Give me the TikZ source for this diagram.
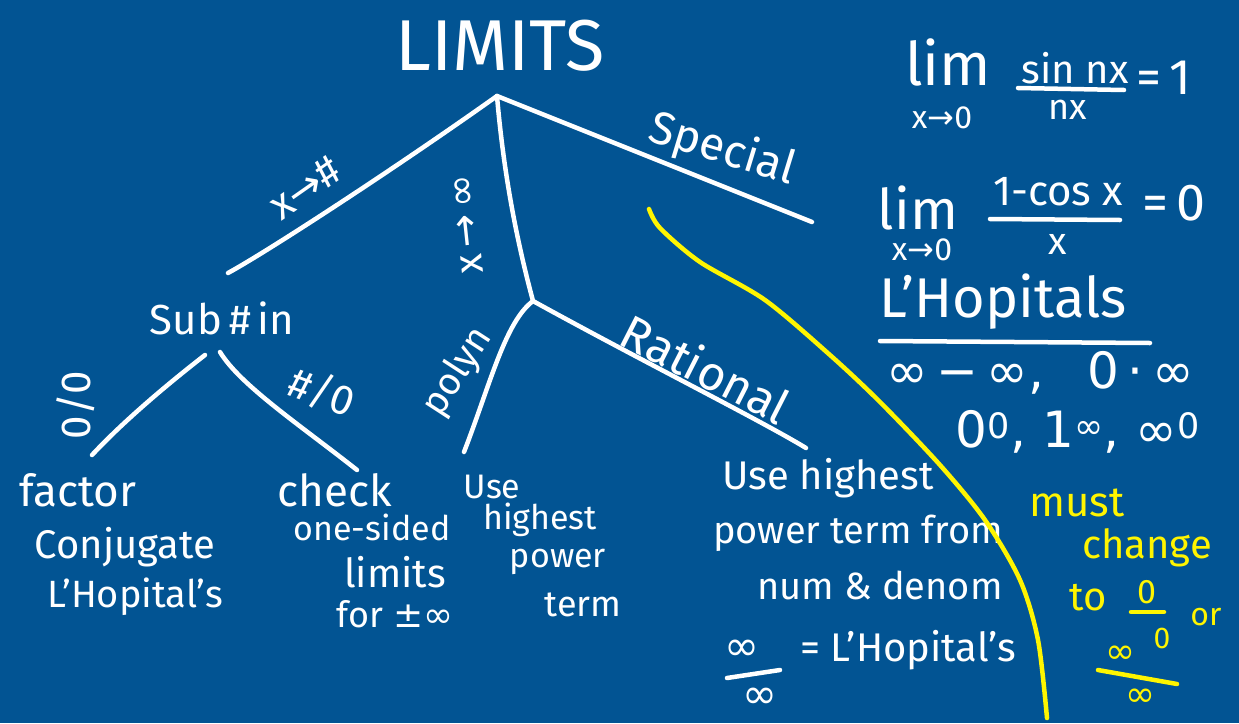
\documentclass[tikz,border=0pt]{standalone}
\usepackage{fontspec}
\setmainfont{Fira Sans}
\newfontfamily\symf{DejaVu Sans}
\definecolor{bg}{RGB}{2,84,147}
\definecolor{hl}{RGB}{255,245,0}
\newcommand\hwsize[1]{\fontsize{#1}{#1}\selectfont}
\begin{document}
\begin{tikzpicture}[x=1pt,y=-1pt,
  hw/.style={draw=white, line width=4.5pt, line cap=round, line join=round},
  yl/.style={draw=hl, line width=4.5pt, line cap=round, line join=round},
  txt/.style={text=white, inner sep=0pt, anchor=center},
  ytxt/.style={text=hl, inner sep=0pt, anchor=center}]
\fill[bg] (0,0) rectangle (1239,723);
\useasboundingbox (0,0) rectangle (1239,723);

% ---------- tree ----------
\node[txt, font=\hwsize{72}] (limits) at (500,46) {LIMITS};
\coordinate (root) at (497,96);
\coordinate (lend) at (228,273);
\coordinate (mid) at (533,301);
\coordinate (rend) at (812,222);
\draw[hw] (root) .. controls (400,165) and (270,250) .. (lend);
\draw[hw] (root) .. controls (505,190) and (522,260) .. (mid);
\draw[hw] (root) -- (rend);

\node[txt, font=\hwsize{42}, rotate=35] (lx) at (305,188) {x{\symf →}\#};
\node[txt, font=\hwsize{40}, rotate=96] (lm) at (468,224) {x\,{\symf →}\,{\symf ∞}};
\node[txt, font=\hwsize{46}, rotate=-17] (ls) at (722,150) {Special};

\node[txt, font=\hwsize{42}] (sub) at (222,318) {Sub\,\#\,in};
\coordinate (s1) at (205,355);
\coordinate (s1end) at (92,455);
\coordinate (s2) at (220,352);
\coordinate (s2end) at (357,470);
\draw[hw] (s1) .. controls (160,390) and (120,425) .. (s1end);
\draw[hw] (s2) .. controls (240,385) and (300,425) .. (s2end);
\node[txt, font=\hwsize{42}, rotate=90] (l00) at (76,405) {0/0};
\node[txt, font=\hwsize{42}, rotate=-20] (lh0) at (322,392) {\#/0};

\coordinate (pend) at (464,452);
\coordinate (ratend) at (806,448);
\draw[hw] (mid) .. controls (505,322) and (490,385) .. (pend);
\draw[hw] (mid) .. controls (640,360) and (760,420) .. (ratend);
\node[txt, font=\hwsize{38}, rotate=57] (lp) at (458,372) {polyn};
\node[txt, font=\hwsize{48}, rotate=-27] (lr) at (706,368) {Rational};

% leaves
\node[txt, font=\hwsize{44}] (f1) at (78,490) {factor};
\node[txt, font=\hwsize{40}] (f2) at (125,547) {Conjugate};
\node[txt, font=\hwsize{38}] (f3) at (135,597) {L'Hopital's};

\node[txt, font=\hwsize{44}] (c1) at (335,490) {check};
\node[txt, font=\hwsize{34}] (c2) at (372,527) {one-sided};
\node[txt, font=\hwsize{40}] (c3) at (395,572) {limits};
\node[txt, font=\hwsize{36}] (c4) at (395,614) {for {\symf ±∞}};

\node[txt, font=\hwsize{34}] (p1) at (492,487) {Use};
\node[txt, font=\hwsize{34}] (p2) at (540,520) {highest};
\node[txt, font=\hwsize{34}] (p3) at (558,562) {power};
\node[txt, font=\hwsize{36}] (p4) at (583,605) {term};

\node[txt, font=\hwsize{40}] (r1) at (828,478) {Use highest};
\node[txt, font=\hwsize{38}] (r2) at (858,533) {power term from};
\node[txt, font=\hwsize{38}] (r3) at (880,585) {num \& denom};
\node[txt, font=\symf\hwsize{42}] (r4a) at (742,650) {∞};
\coordinate (rb1) at (727,678);
\coordinate (rb2) at (780,670);
\draw[hw] (rb1) -- (rb2);
\node[txt, font=\symf\hwsize{42}] (r4b) at (760,698) {∞};
\node[txt, font=\hwsize{40}] (r4c) at (908,650) {= L'Hopital's};

% ---------- yellow divider ----------
\draw[yl] plot[smooth] coordinates {(649,209) (660,228) (700,262) (765,300) (830,355) (880,402) (940,465) (985,520) (1020,580) (1038,640) (1047,718)};

% ---------- special limits ----------
\node[txt, font=\hwsize{60}] (lim1) at (948,62) {lim};
\node[txt, font=\hwsize{32}] (sub1) at (942,118) {x{\symf →}0};
\node[txt, font=\hwsize{40}] (num1) at (1075,68) {sin nx};
\coordinate (b1a) at (1018,88);
\coordinate (b1b) at (1124,90);
\draw[hw] (b1a) -- (b1b);
\node[txt, font=\hwsize{36}] (den1) at (1068,110) {nx};
\node[txt, font=\hwsize{50}] (eq1) at (1164,78) {=\,1};

\node[txt, font=\hwsize{56}] (lim2) at (918,208) {lim};
\node[txt, font=\hwsize{32}] (sub2) at (922,250) {x{\symf →}0};
\node[txt, font=\hwsize{42}] (num2) at (1058,192) {1-cos x};
\coordinate (b2a) at (990,219);
\coordinate (b2b) at (1120,220);
\draw[hw] (b2a) -- (b2b);
\node[txt, font=\hwsize{38}] (den2) at (1058,244) {x};
\node[txt, font=\hwsize{52}] (eq2) at (1174,203) {=\,0};

\node[txt, font=\hwsize{56}] (lh) at (1003,302) {L'Hopitals};
\coordinate (u1) at (880,341);
\coordinate (u2) at (1150,343);
\draw[hw] (u1) -- (u2);

\node[txt, font=\symf\hwsize{50}] (ind1) at (1040,373) {∞\,−\,∞,\;\; 0\,·\,∞};
\node[txt, font=\symf\hwsize{50}] (ind2) at (1078,432) {0\textsuperscript{0}, 1\textsuperscript{∞}, ∞\textsuperscript{0}};

\node[ytxt, font=\hwsize{42}] (y1) at (1077,503) {must};
\node[ytxt, font=\hwsize{40}] (y2) at (1147,548) {change};
\node[ytxt, font=\hwsize{40}] (y3) at (1088,598) {to};
\node[ytxt, font=\hwsize{34}] (y4) at (1147,592) {0};
\coordinate (yb1) at (1131,612);
\coordinate (yb2) at (1164,612);
\draw[yl] (yb1) -- (yb2);
\node[ytxt, font=\hwsize{30}] (y5) at (1162,638) {0};
\node[ytxt, font=\hwsize{32}] (y6) at (1206,617) {or};
\node[ytxt, font=\symf\hwsize{36}] (y7) at (1120,655) {∞};
\coordinate (yb3) at (1098,670);
\coordinate (yb4) at (1177,684);
\draw[yl] (yb3) -- (yb4);
\node[ytxt, font=\symf\hwsize{36}] (y8) at (1140,698) {∞};
\end{tikzpicture}
\end{document}
